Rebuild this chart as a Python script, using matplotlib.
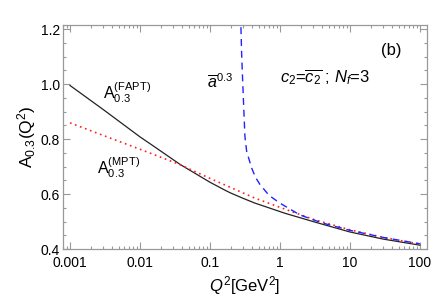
import numpy as np
import matplotlib
matplotlib.use("Agg")
import matplotlib.pyplot as plt
from matplotlib.ticker import FixedLocator, LogLocator, MultipleLocator, NullFormatter

plt.rcParams['font.family'] = ['Liberation Sans', 'DejaVu Sans']
plt.rcParams['mathtext.fontset'] = 'custom'
plt.rcParams['mathtext.rm'] = 'Liberation Sans'
plt.rcParams['mathtext.it'] = 'Liberation Sans:italic'
plt.rcParams['mathtext.bf'] = 'Liberation Sans:bold'

# data
q2_fapt = [0.001, 0.003, 0.01, 0.0153, 0.0373, 0.1, 0.164, 0.193, 0.3, 0.44, 1.18, 3.16, 10, 30, 100]
a_fapt = [0.995, 0.907, 0.808, 0.776, 0.708, 0.643, 0.614, 0.605, 0.584, 0.567, 0.530, 0.498, 0.462, 0.436, 0.414]

q2_mpt = [0.001, 0.003, 0.01, 0.0373, 0.1, 0.193, 0.44, 1.18, 3.16, 10, 30, 100]
a_mpt = [0.859, 0.813, 0.763, 0.707, 0.657, 0.625, 0.585, 0.545, 0.506, 0.470, 0.442, 0.418]

q2_pt = [0.2745, 0.2835, 0.293, 0.316, 0.335, 0.394, 0.45, 0.518, 0.7, 1, 1.93, 4, 10, 30, 100]
a_pt = [1.25, 1.114, 1.017, 0.810, 0.755, 0.695, 0.660, 0.635, 0.595, 0.567, 0.524, 0.495, 0.468, 0.442, 0.419]

xticks = [0.001, 0.01, 0.1, 1, 10, 100]
xticklabels = ['0.001', '0.01', '0.1', '1', '10', '100']
yticks = [0.4, 0.6, 0.8, 1.0, 1.2]

fig = plt.figure(figsize=(4.36, 3.05), dpi=100)
ax = fig.add_axes([0.1445, 0.1836, 0.8345, 0.7344])

ax.plot(q2_fapt, a_fapt, color='#222222', lw=0.9)
ax.plot(q2_mpt, a_mpt, color='#ff2020', lw=1.2, linestyle=(0, (1, 2.2)))
ax.plot(q2_pt, a_pt, color='#2222ff', lw=1.0, linestyle=(0, (5, 3.5)))

ax.set_xscale('log')
ax.set_xlim(10 ** -3.1, 10 ** 2.1)
ax.set_ylim(0.4, 1.215)

ax.xaxis.set_major_locator(FixedLocator(xticks))
ax.set_xticklabels(xticklabels)
ax.xaxis.set_minor_locator(LogLocator(base=10, subs=np.arange(2, 10)))
ax.xaxis.set_minor_formatter(NullFormatter())
ax.yaxis.set_major_locator(FixedLocator(yticks))
ax.set_yticklabels(['%.1f' % v for v in yticks])
ax.yaxis.set_minor_locator(MultipleLocator(0.05))

for s in ax.spines.values():
    s.set_color('#999999')
    s.set_linewidth(0.9)
ax.tick_params(which='both', direction='in', top=True, right=True, color='#999999',
               labelsize=10, width=0.8)
ax.tick_params(which='major', length=5)
ax.tick_params(which='minor', length=2.5)
ax.tick_params(axis='x', pad=5)
ax.tick_params(axis='y', pad=2)

ax.set_ylabel(r'A$_{0.3}$(Q$^2$)', fontsize=12.5, labelpad=2)
ax.set_xlabel(r'$Q^2$[GeV$^2$]', fontsize=12, labelpad=3)

ax.text(0.110, 0.672, r'A$_{0.3}^{(\mathrm{FAPT})}$', transform=ax.transAxes,
        fontsize=11.5, ha='left', va='baseline')
ax.text(0.0925, 0.338, r'A$_{0.3}^{(\mathrm{MPT})}$', transform=ax.transAxes,
        fontsize=11.5, ha='left', va='baseline')
ax.text(0.395, 0.719, r'$\overline{a}^{0.3}$', transform=ax.transAxes,
        fontsize=11.5, ha='left', va='baseline')
ax.text(0.931, 0.866, '(b)', transform=ax.transAxes,
        fontsize=12, ha='right', va='baseline')
ax.text(0.596, 0.742, r'$c_2$=$\overline{c_2}$ ; $N_f$=3', transform=ax.transAxes,
        fontsize=12, ha='left', va='baseline')

fig.savefig('out.png', dpi=100)
